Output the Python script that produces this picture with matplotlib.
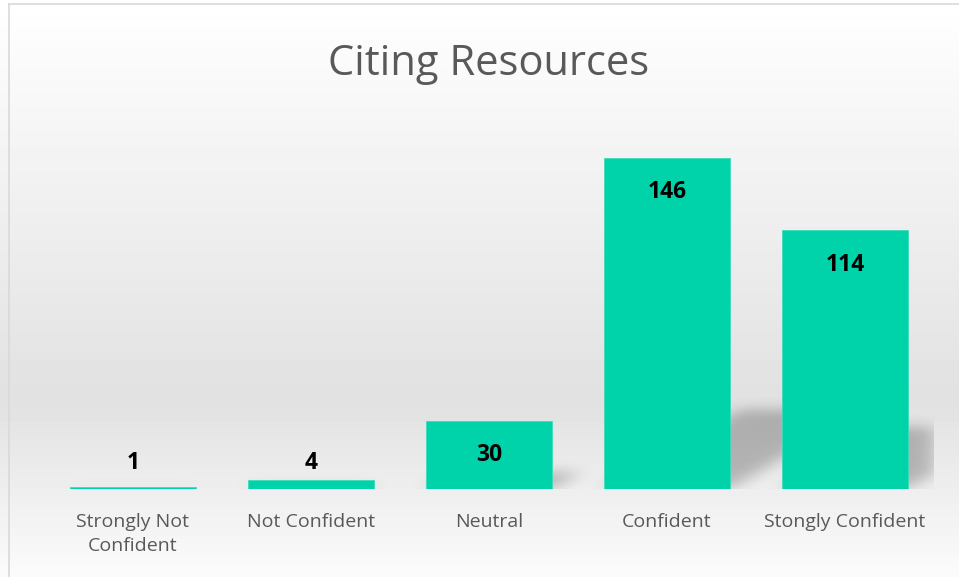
import numpy as np
import matplotlib

matplotlib.use("Agg")
import matplotlib.pyplot as plt
from matplotlib.lines import Line2D

plt.rcParams["font.family"] = ["Open Sans", "DejaVu Sans"]

# ---- data --------------------------------------------------------------------
categories = ["Strongly Not\nConfident", "Not Confident", "Neutral", "Confident", "Stongly Confident"]
counts = [1, 4, 30, 146, 114]
title = "Citing Resources"

BAR_COLOR = "#00D3AA"
TEXT_GRAY = "#595959"
W, H, DPI = 959, 577, 100


def blur1d(a, sigma, axis):
    r = int(3 * sigma)
    k = np.exp(-0.5 * (np.arange(-r, r + 1) / sigma) ** 2)
    k /= k.sum()
    return np.apply_along_axis(lambda v: np.convolve(v, k, mode="same"), axis, a)


fig = plt.figure(figsize=(W / DPI, H / DPI), dpi=DPI)

# background: soft vertical gradient, white -> light gray -> near white
bg = fig.add_axes([0, 0, 1, 1], zorder=-10)
rows = np.arange(H)
shade = np.interp(rows, [0, 400, H - 1], [255, 225, 251]) / 255.0
bg.imshow(np.repeat(shade[:, None], 4, axis=1), cmap="gray", vmin=0, vmax=1,
          aspect="auto", extent=[0, 1, 0, 1], origin="upper")
bg.set_axis_off()
fig.add_artist(Line2D([9 / W, 9 / W], [0, 1 - 4 / H], color="#d9d9d9", lw=1.2))
fig.add_artist(Line2D([9 / W, 1], [1 - 4 / H, 1 - 4 / H], color="#d9d9d9", lw=1.2))

ax = fig.add_axes([44 / W, 88 / H, 890 / W, 363 / H])
ax.set_facecolor("none")
x = np.arange(len(categories))
width = 0.71
ax.bar(x, counts, width=width, color=BAR_COLOR, edgecolor="#3ddbb9", linewidth=0.6, zorder=3)
ax.set_xlim(-0.5, len(categories) - 0.5)
ax.set_ylim(0, 160)

# floor shadow behind the bars (leaning right, squashed), blurred
gx = np.linspace(-0.5, len(categories) - 0.5, 890)
gy = np.linspace(0, 50, 113)
XX, YY = np.meshgrid(gx, gy)
mask = np.zeros_like(XX)
for xi, v in zip(x, counts):
    sh = 0.24 * v
    lean = 0.0219 * YY
    inside = (YY <= sh) & (XX >= xi - width / 2 + lean) & (XX <= xi + width / 2 + lean)
    mask[inside] = 1.0
mask = blur1d(blur1d(mask, 10, 1), 6, 0)
shadow = np.zeros(mask.shape + (4,))
shadow[..., 3] = 0.24 * mask
ax.imshow(shadow, extent=[gx[0], gx[-1], 0, 50], origin="lower", aspect="auto", zorder=1)

for xi, v in zip(x, counts):
    ax.text(xi, max(v - 15.2, 11.6), str(v), ha="center", va="center",
            fontsize=16.5, fontweight="bold", color="black", zorder=4)

ax.set_xticks(x)
ax.set_xticklabels(categories, fontsize=14, color=TEXT_GRAY, linespacing=1.45)
ax.tick_params(axis="x", length=0, pad=17)
ax.set_yticks([])
for s in ax.spines.values():
    s.set_visible(False)

fig.text(489 / W, 1 - 64 / H, title, ha="center", va="center", fontsize=30, color=TEXT_GRAY)

fig.savefig("out.png", dpi=DPI)
